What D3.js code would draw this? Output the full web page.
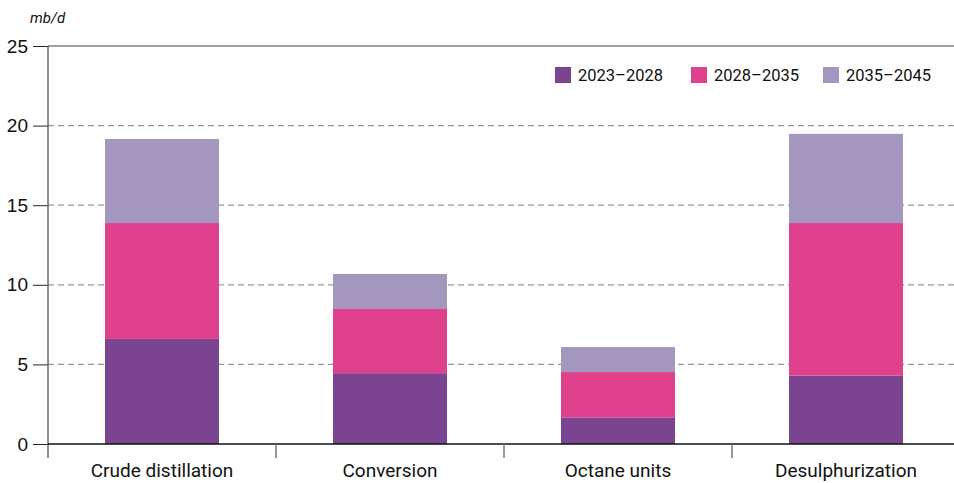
<!DOCTYPE html>
<html>
<head>
<meta charset="utf-8">
<script src="https://cdn.jsdelivr.net/npm/d3@7"></script>
<style>
  body { margin: 0; background: #fff; }
  svg { display: block; font-family: Roboto, "DejaVu Sans", sans-serif; }
</style>
</head>
<body>
<div id="chart"></div>
<script>
// chart data
const categories = ["Crude distillation", "Conversion", "Octane units", "Desulphurization"];
const periods = ["2023\u20132028", "2028\u20132035", "2035\u20132045"];
const colors = ["#7b4490", "#e0418c", "#a397c0"];
const v2023_2028 = [6.6, 4.45, 1.67, 4.3];
const v2028_2035 = [7.28, 4.03, 2.85, 9.58];
const v2035_2045 = [5.28, 2.2, 1.57, 5.6];
const yTicks = [0, 5, 10, 15, 20, 25];

const width = 954, height = 483;
const margin = { top: 46, right: -6, bottom: 39, left: 48 };
const innerW = width - margin.left - margin.right;
const innerH = height - margin.top - margin.bottom;

const svg = d3.select("#chart").append("svg")
    .attr("width", width).attr("height", height);
const g = svg.append("g").attr("transform", `translate(${margin.left},${margin.top})`);

const x = d3.scaleBand().domain(categories).range([0, innerW]).paddingInner(0.5).paddingOuter(0.25);
const y = d3.scaleLinear().domain([0, 25]).range([innerH, 0]);

// grid lines
g.selectAll(".grid").data(yTicks.filter(d => d > 0 && d < 25)).enter()
    .append("line")
    .attr("x1", 0).attr("x2", innerW)
    .attr("y1", d => y(d)).attr("y2", d => y(d))
    .attr("stroke", "#999").attr("stroke-width", 1.2)
    .attr("stroke-dasharray", "6,4");

// top border
g.append("line").attr("x1", 0).attr("x2", innerW).attr("y1", y(25)).attr("y2", y(25))
    .attr("stroke", "#444").attr("stroke-width", 1.2);

// stacked bars
const rows = categories.map((c, i) => ({ cat: c, a: v2023_2028[i], b: v2028_2035[i], c: v2035_2045[i] }));
const stack = d3.stack().keys(["a", "b", "c"])(rows);
g.selectAll(".layer").data(stack).enter().append("g")
    .attr("fill", (d, i) => colors[i])
    .selectAll("rect").data(d => d).enter().append("rect")
    .attr("x", d => x(d.data.cat))
    .attr("width", x.bandwidth())
    .attr("y", d => y(d[1]))
    .attr("height", d => y(d[0]) - y(d[1]));

// y axis
const yAxis = g.append("g")
    .call(d3.axisLeft(y).tickValues(yTicks).tickSize(15).tickPadding(5))
    .call(a => a.select(".domain").remove());
yAxis.selectAll("text").style("font-size", "19px").attr("fill", "#111");
yAxis.selectAll(".tick line").attr("stroke", "#222");
g.append("line").attr("x1", 0).attr("x2", 0).attr("y1", 0).attr("y2", innerH + 14)
    .attr("stroke", "#666").attr("stroke-width", 1.5);

// x axis baseline and category separators
g.append("line").attr("x1", 0).attr("x2", innerW).attr("y1", innerH).attr("y2", innerH)
    .attr("stroke", "#111").attr("stroke-width", 1.5);
const step = x.step();
g.selectAll(".sep").data(d3.range(1, categories.length + 1)).enter().append("line")
    .attr("x1", d => d * step).attr("x2", d => d * step)
    .attr("y1", innerH).attr("y2", innerH + 14)
    .attr("stroke", "#777").attr("stroke-width", 1.5);
g.selectAll(".catlabel").data(categories).enter().append("text")
    .attr("x", d => x(d) + x.bandwidth() / 2)
    .attr("y", innerH + 33)
    .attr("text-anchor", "middle")
    .style("font-size", "19px").attr("fill", "#111")
    .text(d => d);

// unit label
svg.append("text").attr("x", 30).attr("y", 23)
    .style("font-size", "15px").style("font-style", "italic").attr("fill", "#111")
    .text("mb/d");

// legend
const legendX = [555, 691, 823];
const legend = svg.selectAll(".legend").data(periods).enter().append("g")
    .attr("transform", (d, i) => `translate(${legendX[i]},67)`);
legend.append("rect").attr("width", 16).attr("height", 16).attr("fill", (d, i) => colors[i]);
legend.append("text").attr("x", 23).attr("y", 14)
    .style("font-size", "16.5px").attr("fill", "#111").text(d => d);
</script>
</body>
</html>
